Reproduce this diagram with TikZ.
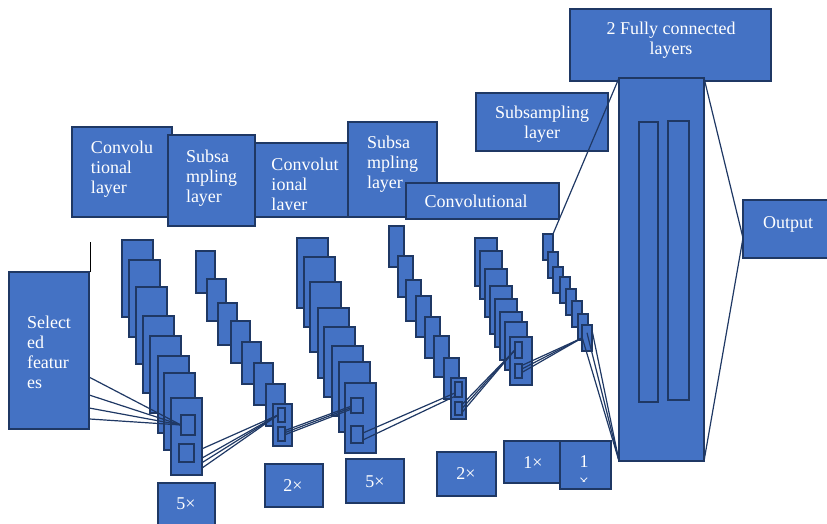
\documentclass[tikz,border=0pt]{standalone}
\usepackage{fontspec}
\setmainfont{Liberation Serif}
\usetikzlibrary{calc}
\definecolor{boxblue}{HTML}{4472C4}
\definecolor{navy}{HTML}{1F3864}
\tikzset{
  blk/.style={draw=navy, fill=boxblue, line width=1.6pt, rectangle, inner sep=0pt, outer sep=0pt},
  lbl/.style={text=white, font=\fontsize{18}{20}\selectfont, inner sep=0pt, outer sep=0pt},
  conn/.style={draw=navy, line width=1.2pt},
  tickline/.style={draw=black, line width=0.8pt},
}
\newcommand{\mkbox}[6]{%
  \pgfmathsetmacro{\mybw}{#5-#3}%
  \pgfmathsetmacro{\mybh}{#6-#4}%
  \node[#1, minimum width=\mybw pt, minimum height=\mybh pt, anchor=north west] (#2) at (#3,#4) {};}
\begin{document}
\begin{tikzpicture}[x=1pt,y=-1pt]
\useasboundingbox (0,0) rectangle (827,524);
% ---------- header boxes ----------
\mkbox{blk}{h1}{72}{127}{172}{217}
\node[lbl, align=left, anchor=north] (th1) at (122,141) {Convolu\\tional\\layer};
\mkbox{blk}{h2}{168}{135}{255}{226}
\node[lbl, align=left, anchor=north] (th2) at (211.5,150) {Subsa\\mpling\\layer};
\mkbox{blk}{h3}{255}{143}{348}{217}
\begin{scope}
  \clip (255,143) rectangle (348,209.5);
  \node[lbl, align=left, anchor=north] (th3) at (305,158) {Convolut\\ional\\layer};
\end{scope}
\mkbox{blk}{h4}{348}{122}{437}{217}
\node[lbl, align=left, anchor=north] (th4) at (392.5,136) {Subsa\\mpling\\layer};
\mkbox{blk}{h5}{406}{183}{559}{219}
\node[lbl, anchor=base] (th5) at (476,207) {Convolutional};
\mkbox{blk}{h6}{476}{93}{608}{151}
\node[lbl, align=center, anchor=north] (th6) at (542,106) {Subsampling\\layer};
\mkbox{blk}{h7}{570}{9}{771}{81}
\node[lbl, align=center, anchor=north] (th7) at (671,22) {2 Fully connected\\layers};
% ---------- fully connected block ----------
\mkbox{blk}{fc}{619}{78}{704}{461}
\mkbox{blk}{fc1}{639}{122}{658}{402}
\mkbox{blk}{fc2}{668}{121}{689}{400}
% ---------- output ----------
\mkbox{blk}{out}{743}{200}{830}{258}
\node[lbl, anchor=base] (tout) at (788,228) {Output};
% ---------- input ----------
\mkbox{blk}{inp}{9}{272}{89}{429}
\node[lbl, align=left, anchor=north] (tin) at (49,316) {Select\\ed\\featur\\es};
\coordinate (tick) at (90.5,242);
\draw[tickline] ([xshift=1.5pt]inp.north east) -- (tick);
% ---------- stacks ----------
\foreach \px/\py [count=\i] in {122/240,129/260,136/287,143/316,150/336,158/356,164/373,171/398}
  {\mkbox{blk}{s1-\i}{\px}{\py}{\px+31}{\py+77}}
\foreach \px/\py [count=\i] in {196/251,207/279,218/303,231/321,242/342,254/363,266/384,273/404}
  {\mkbox{blk}{s2-\i}{\px}{\py}{\px+19}{\py+42}}
\foreach \px/\py [count=\i] in {297/238,304/257,310/282,318/308,324/327,332/346,339/362,345/383}
  {\mkbox{blk}{s3-\i}{\px}{\py}{\px+31}{\py+70}}
\foreach \px/\py [count=\i] in {389/226,398/256,406/280,416/296,425/317,434/336,444/358,451/378}
  {\mkbox{blk}{s4-\i}{\px}{\py}{\px+15}{\py+41}}
\foreach \px/\py [count=\i] in {475/238,480/251,485/269,490/286,495/299,500/312,505/322,510/337}
  {\mkbox{blk}{s5-\i}{\px}{\py}{\px+22}{\py+48}}
\foreach \px/\py [count=\i] in {543/234,548/252,553/267,560/277,566/289,572/301,578/314,582/325}
  {\mkbox{blk}{s6-\i}{\px}{\py}{\px+10}{\py+26}}
% ---------- inner windows ----------
\mkbox{blk}{r1a}{181}{415}{195}{435}
\mkbox{blk}{r1b}{179}{444}{194}{462}
\mkbox{blk}{r2a}{278}{408}{285}{422}
\mkbox{blk}{r2b}{278}{427}{285}{441}
\mkbox{blk}{r3a}{351}{398}{363}{413}
\mkbox{blk}{r3b}{351}{426}{363}{443}
\mkbox{blk}{r4a}{455}{382}{462}{397}
\mkbox{blk}{r4b}{455}{402}{462}{415}
\mkbox{blk}{r5a}{515}{342}{522}{358}
\mkbox{blk}{r5b}{515}{364}{522}{378}
% ---------- connectors ----------
\foreach \f in {.669,.783,.866,.936}
  \draw[conn] ($(inp.north east)!\f!(inp.south east)$) -- (r1a.west);
\foreach \f in {.66,.78,.84,.91}
  \draw[conn] ($(s1-8.north east)!\f!(s1-8.south east)$) -- (r2a.west);
\foreach \f/\g in {.25/.55,.4/.65,.55/.75}
  \draw[conn] ($(r2b.north east)!\f!(r2b.south east)$) -- ($(r3a.north west)!\g!(r3a.south west)$);
\draw[conn] ($(r3b.north east)!.41!(r3b.south east)$) -- ($(r4a.north west)!.73!(r4a.south west)$);
\draw[conn] ($(r3b.north east)!.82!(r3b.south east)$) -- ($(r4a.north west)!.95!(r4a.south west)$);
\foreach \f in {.2,.5,.8}
  \draw[conn] ($(r4b.north east)!\f!(r4b.south east)$) -- (r5a.west);
\foreach \f in {.1,.35,.6}
  \draw[conn] ($(r5b.north east)!\f!(r5b.south east)$) -- ($(s6-8.north west)!.5!(s6-8.south west)$);
\draw[conn] ($(s6-8.north west)!.46!(s6-8.south west)$) -- (fc.south west);
\draw[conn] ($(s6-8.north)!.3!(s6-8.south)$) -- (fc.south west);
\draw[conn] ($(s6-8.north east)!.2!(s6-8.south east)$) -- (fc.south west);
\draw[conn] (s6-1.north east) -- (fc.north west);
\coordinate (outin) at ($(out.north west)!.655!(out.south west)$);
\draw[conn] (fc.north east) -- (outin);
\draw[conn] (fc.south east) -- (outin);
% ---------- bottom size boxes ----------
\mkbox{blk}{b1}{158}{483}{215}{530}
\node[lbl, anchor=base] (tb1) at (186,509) {5×};
\mkbox{blk}{b2}{265}{464}{323}{507}
\node[lbl, anchor=base] (tb2) at (293,491) {2×};
\mkbox{blk}{b3}{346}{459}{404}{503}
\node[lbl, anchor=base] (tb3) at (375,487) {5×};
\mkbox{blk}{b4}{437}{452}{496}{496}
\node[lbl, anchor=base] (tb4) at (466,479) {2×};
\mkbox{blk}{b5}{504}{441}{561}{483}
\node[lbl, anchor=base] (tb5) at (533,468) {1×};
\mkbox{blk}{b6}{560}{441}{611}{489}
\node[lbl, anchor=base] (tb6) at (584,467) {1};
\begin{scope}
  \clip (560,441) rectangle (611,481);
  \node[lbl, anchor=base] (tb6x) at (584,487) {×};
\end{scope}
\end{tikzpicture}
\end{document}
